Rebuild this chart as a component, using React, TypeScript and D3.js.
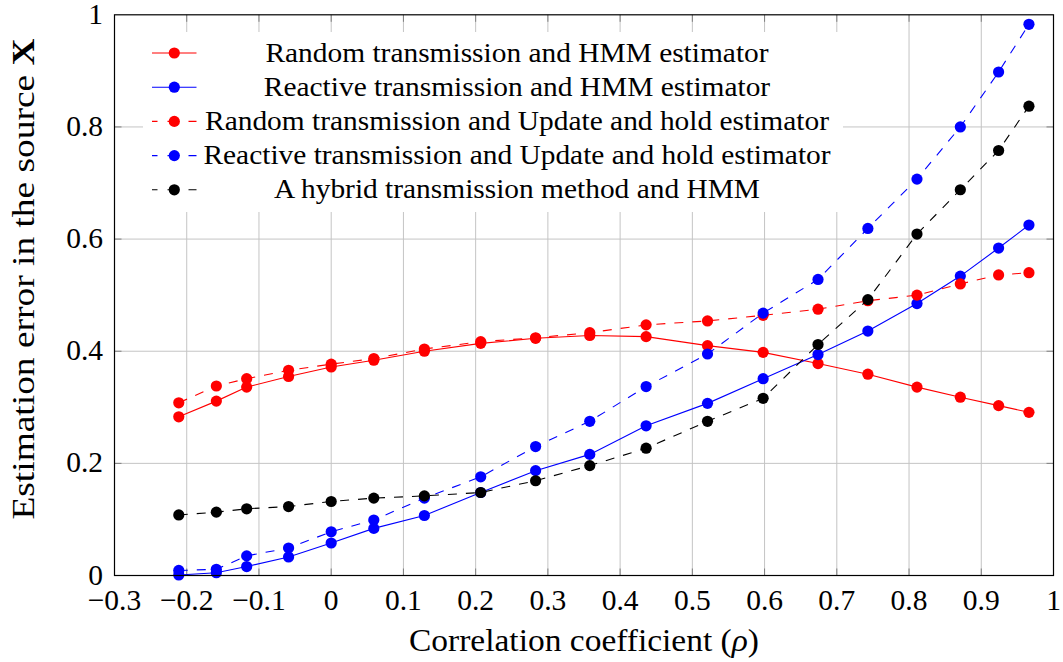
import React from "react";
import * as d3 from "d3";

const xs = [-0.211, -0.159, -0.117, -0.059, 0.0, 0.059, 0.129, 0.207, 0.283, 0.358, 0.436, 0.521, 0.598, 0.674, 0.743, 0.811, 0.871, 0.924, 0.966];

const randomHMM = [0.283, 0.311, 0.336, 0.355, 0.372, 0.384, 0.400, 0.414, 0.423, 0.428, 0.426, 0.410, 0.398, 0.378, 0.359, 0.336, 0.318, 0.303, 0.291];
const reactiveHMM = [0.001, 0.005, 0.016, 0.033, 0.058, 0.084, 0.107, 0.148, 0.187, 0.216, 0.267, 0.307, 0.351, 0.394, 0.436, 0.485, 0.534, 0.584, 0.625];
const randomUH = [0.308, 0.338, 0.351, 0.366, 0.377, 0.387, 0.404, 0.417, 0.424, 0.433, 0.447, 0.454, 0.464, 0.475, 0.490, 0.500, 0.520, 0.536, 0.540];
const reactiveUH = [0.009, 0.011, 0.035, 0.049, 0.078, 0.099, 0.138, 0.176, 0.230, 0.275, 0.337, 0.395, 0.468, 0.528, 0.619, 0.707, 0.800, 0.898, 0.983];
const hybrid = [0.108, 0.113, 0.119, 0.123, 0.132, 0.138, 0.142, 0.148, 0.169, 0.196, 0.227, 0.275, 0.316, 0.412, 0.492, 0.609, 0.688, 0.758, 0.837];

const xTicks = [-0.3, -0.2, -0.1, 0, 0.1, 0.2, 0.3, 0.4, 0.5, 0.6, 0.7, 0.8, 0.9, 1];
const yTicks = [0, 0.2, 0.4, 0.6, 0.8, 1];

const seriesNames = [
  "Random transmission and HMM estimator",
  "Reactive transmission and HMM estimator",
  "Random transmission and Update and hold estimator",
  "Reactive transmission and Update and hold estimator",
  "A hybrid transmission method and HMM",
];

const series = [
  { name: seriesNames[0], values: randomHMM, color: "#ff0000", dashed: false },
  { name: seriesNames[1], values: reactiveHMM, color: "#0000ff", dashed: false },
  { name: seriesNames[2], values: randomUH, color: "#ff0000", dashed: true },
  { name: seriesNames[3], values: reactiveUH, color: "#0000ff", dashed: true },
  { name: seriesNames[4], values: hybrid, color: "#000000", dashed: true },
];

const W = 1063;
const H = 662;
const FONT = "Liberation Serif";

function fmt(v: number): string {
  if (Math.abs(v) < 1e-9) return "0";
  if (Math.abs(v - 1) < 1e-9) return "1";
  const s = Math.abs(v).toFixed(1);
  return (v < 0 ? "\u2212" : "") + s;
}

export default function App() {
  const x = d3.scaleLinear().domain([-0.3, 1]).range([114.5, 1053.5]);
  const y = d3.scaleLinear().domain([0, 1]).range([575.5, 14.8]);
  const line = d3
    .line<number>()
    .x((_, i) => x(xs[i]))
    .y((d) => y(d));

  const [x0, x1] = x.range();
  const [y0, y1] = y.range();

  const legend = { left: 143, right: 843, top: 32, bottom: 212 };
  const rowY0 = 53;
  const rowStep = 34.2;
  const textCx = 517;
  const ts = { fontFamily: FONT };

  return (
    <svg
      width={W}
      height={H}
      style={{ position: "absolute", left: 0, top: 0, background: "#fff" }}
    >
      <rect x={0} y={0} width={W} height={H} fill="#fff" />
      {xTicks.slice(1, -1).map((t) => (
        <line key={"gx" + t} x1={x(t)} x2={x(t)} y1={y0} y2={y1} stroke="#c4c4c4" strokeWidth={1} />
      ))}
      {yTicks.slice(1, -1).map((t) => (
        <line key={"gy" + t} x1={x0} x2={x1} y1={y(t)} y2={y(t)} stroke="#c4c4c4" strokeWidth={1} />
      ))}
      {xTicks.slice(1, -1).map((t) => (
        <g key={"tx" + t}>
          <line x1={x(t)} x2={x(t)} y1={y0} y2={y0 - 7} stroke="#7f7f7f" strokeWidth={1} />
          <line x1={x(t)} x2={x(t)} y1={y1} y2={y1 + 7} stroke="#7f7f7f" strokeWidth={1} />
        </g>
      ))}
      {yTicks.slice(1, -1).map((t) => (
        <g key={"ty" + t}>
          <line x1={x0} x2={x0 + 7} y1={y(t)} y2={y(t)} stroke="#7f7f7f" strokeWidth={1} />
          <line x1={x1} x2={x1 - 7} y1={y(t)} y2={y(t)} stroke="#7f7f7f" strokeWidth={1} />
        </g>
      ))}
      <rect
        x={legend.left}
        y={legend.top}
        width={legend.right - legend.left}
        height={legend.bottom - legend.top}
        fill="#fff"
      />
      {series.map((s) => (
        <g key={s.name}>
          <path
            d={line(s.values) || ""}
            fill="none"
            stroke={s.color}
            strokeWidth={1.1}
            strokeDasharray={s.dashed ? "9 9" : undefined}
          />
          {s.values.map((v, i) => (
            <circle key={i} cx={x(xs[i])} cy={y(v)} r={5.6} fill={s.color} />
          ))}
        </g>
      ))}
      <rect x={x0} y={y1} width={x1 - x0} height={y0 - y1} fill="none" stroke="#000" strokeWidth={1.2} />
      {series.map((s, i) => {
        const cy = rowY0 + i * rowStep;
        return (
          <g key={"lg" + i}>
            <line
              x1={152}
              x2={196.5}
              y1={cy}
              y2={cy}
              stroke={s.color}
              strokeWidth={1.1}
              strokeDasharray={s.dashed ? "5.5 10 5.5 0" : undefined}
            />
            <circle cx={174.3} cy={cy} r={5.6} fill={s.color} />
            <text
              transform={`translate(${textCx}, ${cy + 8.5}) scale(1.11, 1)`}
              textAnchor="middle"
              fontSize={26.5}
              fill="#000"
              style={ts}
            >
              {s.name}
            </text>
          </g>
        );
      })}
      {xTicks.map((t) => (
        <text key={"xl" + t} x={x(t)} y={610} textAnchor="middle" fontSize={29.5} fill="#000" style={ts}>
          {fmt(t)}
        </text>
      ))}
      {yTicks.map((t) => (
        <text key={"yl" + t} x={103} y={y(t) + 9} textAnchor="end" fontSize={29.5} fill="#000" style={ts}>
          {fmt(t)}
        </text>
      ))}
      <text
        transform={`translate(${(x0 + x1) / 2}, 651) scale(1.08, 1)`}
        textAnchor="middle"
        fontSize={31}
        fill="#000"
        style={ts}
      >
        Correlation coefficient (<tspan fontStyle="italic">ρ</tspan>)
      </text>
      <text
        transform={`translate(34, 279) rotate(-90) scale(1.17, 1)`}
        textAnchor="middle"
        fontSize={32}
        fill="#000"
        style={ts}
      >
        Estimation error in the source <tspan fontWeight="bold">X</tspan>
      </text>
    </svg>
  );
}
